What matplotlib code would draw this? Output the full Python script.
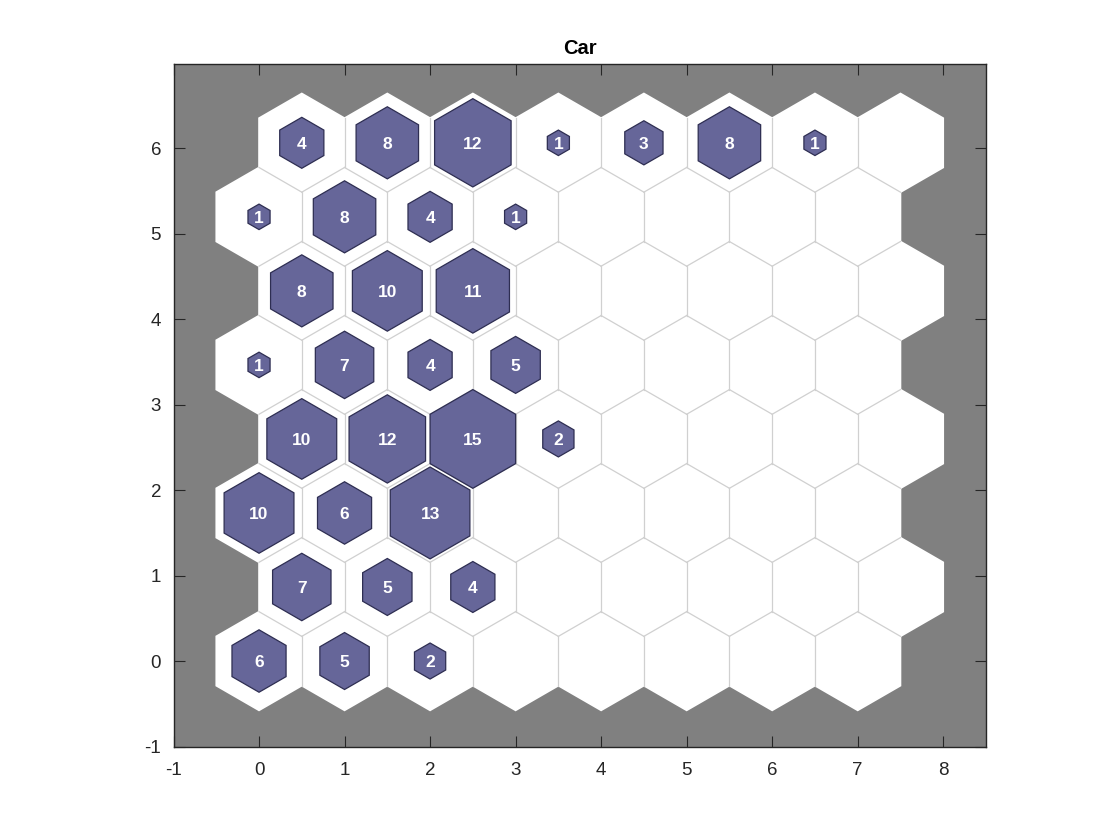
import numpy as np
import matplotlib.pyplot as plt
from matplotlib.patches import RegularPolygon

plt.rcParams['font.family'] = ['Liberation Sans', 'DejaVu Sans']
plt.rcParams['axes.unicode_minus'] = False

# SOM grid: 8 x 8 hexagonal, hit counts per row (bottom row first, left to right)
n_cols = 8
n_rows = 8
hits = [
    [6, 5, 2, 0, 0, 0, 0, 0],
    [7, 5, 4, 0, 0, 0, 0, 0],
    [10, 6, 13, 0, 0, 0, 0, 0],
    [10, 12, 15, 2, 0, 0, 0, 0],
    [1, 7, 4, 5, 0, 0, 0, 0],
    [8, 10, 11, 0, 0, 0, 0, 0],
    [1, 8, 4, 1, 0, 0, 0, 0],
    [4, 8, 12, 1, 3, 8, 1, 0],
]
title = 'Car'

hits = np.array(hits)
r = 1 / np.sqrt(3)
pos = []
for j in range(n_rows):
    for i in range(n_cols):
        pos.append((i + 0.5 * (j % 2), j * np.sqrt(3) / 2))
pos = np.array(pos)
h = hits.ravel()
hmax = h.max()

fig = plt.figure(figsize=(11.2, 8.4), dpi=100)
ax = fig.add_axes([173.5 / 1120, 93.5 / 840, 812.5 / 1120, 683 / 840])
ax.set_facecolor('#808080')

# white cells
for (x, y) in pos:
    ax.add_patch(RegularPolygon((x, y), 6, radius=r, orientation=0,
                                facecolor='white', edgecolor='white', lw=1.2, zorder=1))

# gray lines between neighbouring cells
for a in range(len(pos)):
    for b in range(a + 1, len(pos)):
        d = pos[b] - pos[a]
        if abs(np.hypot(*d) - 1) < 1e-6:
            m = (pos[a] + pos[b]) / 2
            perp = np.array([-d[1], d[0]]) * (r / 2)
            ax.plot([m[0] - perp[0], m[0] + perp[0]], [m[1] - perp[1], m[1] + perp[1]],
                    color='#d0d0d0', lw=0.9, zorder=2)

# hit hexagons
for (x, y), n in zip(pos, h):
    if n > 0:
        s = np.sqrt(n / hmax)
        ax.add_patch(RegularPolygon((x, y), 6, radius=r * s, orientation=0,
                                    facecolor='#666699', edgecolor='#2e2e52', lw=0.9, zorder=3))
        ax.text(x, y - 0.02, str(n), color='white', fontsize=12.5, fontweight='bold',
                ha='center', va='center', zorder=4)

ax.set_xlim(-1, 8.5)
ax.set_ylim(-1, 6.99)
ax.set_xticks(np.arange(-1, 9))
ax.set_yticks(np.arange(-1, 7))
ax.tick_params(direction='in', length=8, top=True, right=True, labelsize=13.5,
               colors='#262626')
ax.tick_params(axis='x', pad=11)
ax.tick_params(axis='y', pad=9)
for sp in ax.spines.values():
    sp.set_color('#262626')
    sp.set_linewidth(1.0)
ax.set_title(title, fontsize=14.5, fontweight='bold', pad=7)

plt.savefig('out.png')
